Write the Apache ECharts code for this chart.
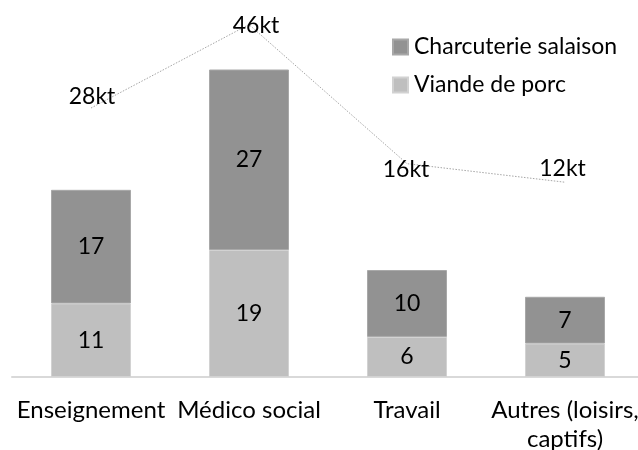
<!DOCTYPE html>
<html>
<head>
<meta charset="utf-8">
<script src="https://cdn.jsdelivr.net/npm/echarts@6/dist/echarts.min.js"></script>
<style>
html,body{margin:0;padding:0;background:#fff;}
#chart{width:638px;height:450px;}
</style>
</head>
<body>
<div id="chart"></div>
<script>
const categories = ['Enseignement', 'Médico social', 'Travail', 'Autres (loisirs,\ncaptifs)'];
const viandeDePorc = [11, 19, 6, 5];
const charcuterieSalaison = [17, 27, 10, 7];
const totals = [28, 46, 16, 12];
const totalLabels = ['28kt', '46kt', '16kt', '12kt'];
const seriesNames = ['Charcuterie salaison', 'Viande de porc'];

// label placement (style, not data)
const totalLabelOffsets = [[1, -11], [7, 1.5], [-1, 6], [-2.5, -14]];

const FONT = 'Lato';
const FS = 23;

const chart = echarts.init(document.getElementById('chart'), null, {renderer: 'canvas'});

chart.setOption({
  animation: false,
  backgroundColor: '#ffffff',
  textStyle: {fontFamily: FONT},
  grid: {left: 12, right: -6, top: 6, bottom: 73, containLabel: false, outerBoundsMode: 'none'},
  legend: {
    orient: 'vertical',
    left: 392,
    top: 35,
    padding: 0,
    itemWidth: 15,
    itemHeight: 15,
    itemGap: 14,
    icon: 'rect',
    selectedMode: false,
    data: seriesNames,
    textStyle: {fontFamily: FONT, fontSize: FS, color: '#000', lineHeight: 24, padding: [0, 0, 0, 1]}
  },
  xAxis: {
    type: 'category',
    data: categories,
    axisLine: {show: true, lineStyle: {color: '#d9d9d9', width: 2}},
    axisTick: {show: false},
    axisLabel: {fontFamily: FONT, fontSize: 24, color: '#000', lineHeight: 29, margin: 19, interval: 0}
  },
  yAxis: [
    {type: 'value', min: 0, max: 55.5, show: false, splitLine: {show: false}},
    {type: 'value', min: -30, max: 50, show: false, splitLine: {show: false}}
  ],
  series: [
    {
      name: 'Viande de porc',
      type: 'bar',
      stack: 'total',
      barWidth: 80,
      data: viandeDePorc,
      itemStyle: {color: '#bfbfbf', borderColor: '#d2d2d2', borderWidth: 1},
      label: {show: true, position: 'inside', fontFamily: FONT, fontSize: FS, color: '#000'}
    },
    {
      name: 'Charcuterie salaison',
      type: 'bar',
      stack: 'total',
      barWidth: 80,
      data: charcuterieSalaison,
      itemStyle: {color: '#929292', borderColor: '#a8a8a8', borderWidth: 1},
      label: {show: true, position: 'inside', fontFamily: FONT, fontSize: FS, color: '#000'}
    },
    {
      name: 'Total',
      type: 'line',
      yAxisIndex: 1,
      data: totals,
      showSymbol: true,
      symbol: 'circle',
      symbolSize: 1,
      itemStyle: {color: 'rgba(0,0,0,0)'},
      lineStyle: {color: '#a6a6a6', width: 1, type: [1.5, 1.5]},
      label: {
        show: true,
        position: 'inside',
        fontFamily: FONT,
        fontSize: FS,
        color: '#000',
        formatter: p => totalLabels[p.dataIndex]
      },
      labelLayout: p => ({
        hideOverlap: false,
        dx: totalLabelOffsets[p.dataIndex][0],
        dy: totalLabelOffsets[p.dataIndex][1]
      }),
      z: 3
    }
  ]
});
</script>
</body>
</html>
